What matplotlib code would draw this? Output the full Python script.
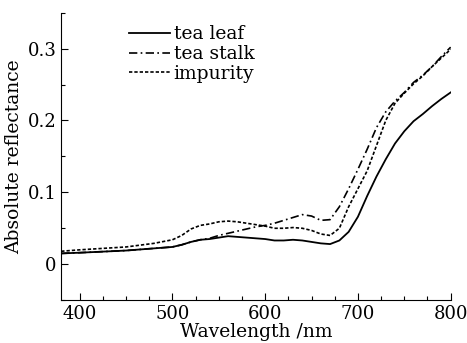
import matplotlib
matplotlib.use('Agg')
import matplotlib.pyplot as plt
from matplotlib.ticker import MultipleLocator

# wavelength (nm) and reflectance
wl = [380, 400, 450, 480, 500, 510, 520, 530, 540, 550, 560, 570, 580, 590, 600,
      610, 620, 630, 640, 650, 660, 670, 680, 690, 700, 710, 720, 730, 740, 750,
      760, 770, 780, 790, 800]
tea_leaf = [0.015, 0.016, 0.019, 0.022, 0.024, 0.027, 0.031, 0.034, 0.035, 0.037,
            0.039, 0.038, 0.037, 0.036, 0.035, 0.033, 0.033, 0.034, 0.033, 0.031,
            0.029, 0.028, 0.033, 0.045, 0.066, 0.095, 0.122, 0.146, 0.168, 0.185,
            0.199, 0.209, 0.220, 0.230, 0.239]
tea_stalk = [0.015, 0.016, 0.019, 0.022, 0.024, 0.027, 0.031, 0.034, 0.036, 0.040,
             0.043, 0.046, 0.049, 0.052, 0.054, 0.057, 0.061, 0.065, 0.069, 0.067,
             0.061, 0.062, 0.080, 0.105, 0.132, 0.160, 0.190, 0.212, 0.227, 0.239,
             0.253, 0.263, 0.275, 0.289, 0.302]
impurity = [0.018, 0.020, 0.024, 0.029, 0.034, 0.040, 0.049, 0.054, 0.056, 0.059,
            0.060, 0.059, 0.057, 0.055, 0.053, 0.050, 0.050, 0.051, 0.050, 0.047,
            0.042, 0.040, 0.050, 0.080, 0.105, 0.130, 0.165, 0.200, 0.224, 0.238,
            0.251, 0.262, 0.275, 0.287, 0.299]

plt.rcParams['font.family'] = 'DejaVu Serif'
plt.rcParams['font.size'] = 13.5

fig = plt.figure(figsize=(4.67, 3.43), dpi=100)
ax = fig.add_axes([0.131, 0.125, 0.834, 0.838])

ax.plot(wl, tea_leaf, color='black', lw=1.3, ls='-', label='tea leaf')
ax.plot(wl, tea_stalk, color='black', lw=1.2, ls=(0, (5, 2, 1, 2)), label='tea stalk')
ax.plot(wl, impurity, color='black', lw=1.2, ls=(0, (2, 1.2)), label='impurity')

ax.set_xlim(380, 800)
ax.set_ylim(-0.05, 0.35)
ax.xaxis.set_major_locator(MultipleLocator(100))
ax.xaxis.set_minor_locator(MultipleLocator(25))
ax.yaxis.set_major_locator(MultipleLocator(0.1))
ax.yaxis.set_minor_locator(MultipleLocator(0.05))
ax.set_yticks([0, 0.1, 0.2, 0.3])
ax.set_yticklabels(['0', '0.1', '0.2', '0.3'])

ax.spines['top'].set_visible(False)
ax.spines['right'].set_visible(False)
ax.tick_params(which='major', direction='in', length=5, width=0.8, labelsize=13)
ax.tick_params(which='minor', direction='in', length=3, width=0.8)

ax.set_xlabel('Wavelength /nm', fontsize=13.5, labelpad=0)
ax.set_ylabel('Absolute reflectance', fontsize=13.5, labelpad=3)

ax.legend(loc='upper left', bbox_to_anchor=(0.13, 1.015), frameon=False,
          handlelength=2.2, handletextpad=0.2, labelspacing=0.1, fontsize=13.5)

fig.savefig('out.png', dpi=100)
